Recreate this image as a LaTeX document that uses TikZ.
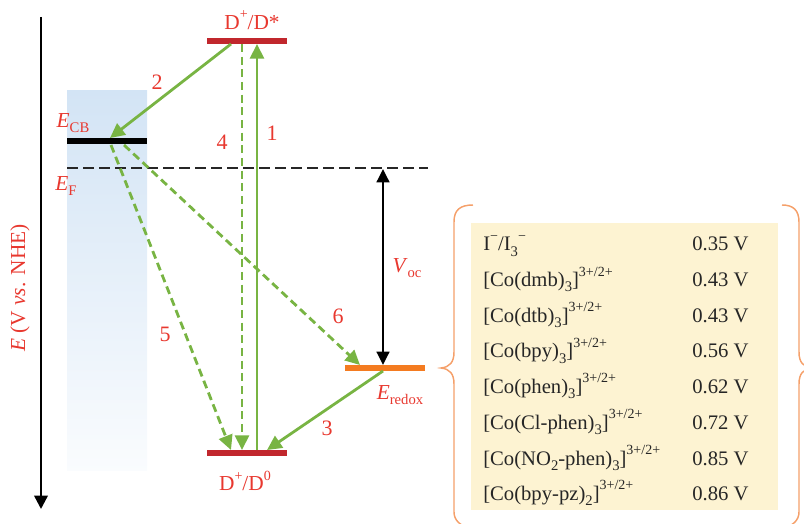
\documentclass[tikz,border=0pt]{standalone}
\usepackage{fontspec}
\setmainfont{Liberation Serif}
\usetikzlibrary{arrows.meta}
\definecolor{lblred}{HTML}{E8382F}
\definecolor{barred}{HTML}{C1272D}
\definecolor{grn}{HTML}{78B443}
\definecolor{orng}{HTML}{F47B20}
\definecolor{bracec}{HTML}{F5A06A}
\definecolor{tabbg}{HTML}{FDF3D2}
\definecolor{bluetop}{HTML}{D3E4F5}
\newcommand\lo[1]{\raisebox{-0.25em}{\fontsize{11}{11}\selectfont #1}}
\newcommand\hi[1]{\raisebox{0.5em}{\fontsize{10.5}{11}\selectfont #1}}
\begin{document}
\begin{tikzpicture}[x=0.75pt,y=-0.75pt,
  lvl/.style={rectangle,inner sep=0pt,minimum width=60pt,minimum height=4.6pt,draw=none},
  lbl/.style={text=lblred,inner sep=0pt,font=\fontsize{16}{18}\selectfont},
  num/.style={text=lblred,inner sep=0pt,font=\fontsize{16.5}{18}\selectfont},
  tab/.style={inner sep=0pt,anchor=base west,text=black!85,font=\fontsize{15.5}{18}\selectfont},
  garrow/.style={draw=grn,line width=2.1pt,-{Triangle[length=11pt,width=10.5pt]}},
  gdash/.style={garrow,dash pattern=on 6pt off 3.5pt},
  brc/.style={draw=bracec,line width=1.1pt}]
\useasboundingbox (0,0) rectangle (804,524);
% gradient band
\shade[top color=bluetop,bottom color=bluetop!12!white] (67,91) rectangle (147,470);
% energy axis
\coordinate (axtop) at (41,17);
\coordinate (axbot) at (41,509);
\draw[line width=1.8pt,-{Triangle[length=10pt,width=10pt]}] (axtop) -- (axbot);
\node[lbl,rotate=90] (axlbl) at (20,288) {\textit{E} (V \textit{vs}. NHE)};
% Fermi level
\coordinate (efl) at (67,168);
\coordinate (efr) at (428,168);
\draw[line width=1.3pt,dash pattern=on 8pt off 4pt,black!85] (efl) -- (efr);
% levels
\node[lvl,fill=black] (cb) at (107,141) {};
\node[lvl,fill=barred] (dstar) at (247,41) {};
\node[lvl,fill=barred] (dzero) at (247,453) {};
\node[lvl,fill=orng] (redox) at (385,368) {};
% level labels
\node[lbl] (cblbl) at (73,123) {\textit{E}\lo{CB}};
\node[lbl] (eflbl) at (66,186) {\textit{E}\lo{F}};
\node[lbl] (dslbl) at (252,20) {D\hi{+}/D*};
\node[lbl] (d0lbl) at (245,481) {D\hi{+}/D\hi{0}};
\node[lbl] (rdlbl) at (400,395) {\textit{E}\lo{redox}};
\node[lbl] (voclbl) at (407,268) {\textit{V}\lo{oc}};
% arrow end points
\coordinate (a1s) at (257,450);
\coordinate (a1e) at (257,44);
\coordinate (a4s) at (242,44);
\coordinate (a4e) at (242,450);
\coordinate (a2s) at (231,44);
\coordinate (a2e) at (110,138);
\coordinate (a5s) at (111,145);
\coordinate (a5e) at (231,450);
\coordinate (a6s) at (124,145);
\coordinate (a6e) at (360,365);
\coordinate (a3s) at (383,371);
\coordinate (a3e) at (267,450);
\coordinate (vt) at (383,169);
\coordinate (vb) at (383,365);
% arrows
\draw[garrow] (a1s) -- (a1e);
\draw[gdash] (a4s) -- (a4e);
\draw[garrow] (a2s) -- (a2e);
\draw[gdash] (a5s) -- (a5e);
\draw[gdash] (a6s) -- (a6e);
\draw[garrow] (a3s) -- (a3e);
\draw[line width=1.8pt,{Triangle[length=10pt,width=9.5pt]}-{Triangle[length=10pt,width=9.5pt]}] (vt) -- (vb);
% step numbers
\node[num] (n1) at (272,133) {1};
\node[num] (n2) at (157,82) {2};
\node[num] (n3) at (327,428) {3};
\node[num] (n4) at (222,142) {4};
\node[num] (n5) at (165,334) {5};
\node[num] (n6) at (338,316) {6};
% braces
\draw[brc] (473,205) .. controls (460,205) and (454,210) .. (454,222) -- (454,352)
  .. controls (454,362) and (450,367) .. (441,368)
  .. controls (450,369) and (454,374) .. (454,384) -- (454,512)
  .. controls (454,520) and (460,526) .. (470,528);
\draw[brc] (782,205) .. controls (793,205) and (799,210) .. (799,222) -- (799,352)
  .. controls (799,362) and (803,367) .. (812,368)
  .. controls (803,369) and (799,374) .. (799,384) -- (799,512)
  .. controls (799,520) and (793,526) .. (783,528);
% table
\fill[tabbg] (471,223) rectangle (778,510);
\node[tab] (r1l) at (483,251) {I\hi{−}/I\lo{3}\hi{−}};
\node[tab] (r2l) at (483,286.5) {[Co(dmb)\lo{3}]\hi{3+/2+}};
\node[tab] (r3l) at (483,322) {[Co(dtb)\lo{3}]\hi{3+/2+}};
\node[tab] (r4l) at (483,358) {[Co(bpy)\lo{3}]\hi{3+/2+}};
\node[tab] (r5l) at (483,393) {[Co(phen)\lo{3}]\hi{3+/2+}};
\node[tab] (r6l) at (483,429) {[Co(Cl-phen)\lo{3}]\hi{3+/2+}};
\node[tab] (r7l) at (483,465) {[Co(NO\lo{2}-phen)\lo{3}]\hi{3+/2+}};
\node[tab] (r8l) at (483,500) {[Co(bpy-pz)\lo{2}]\hi{3+/2+}};
\node[tab] (r1r) at (692,251) {0.35 V};
\node[tab] (r2r) at (692,286.5) {0.43 V};
\node[tab] (r3r) at (692,322) {0.43 V};
\node[tab] (r4r) at (692,358) {0.56 V};
\node[tab] (r5r) at (692,393) {0.62 V};
\node[tab] (r6r) at (692,429) {0.72 V};
\node[tab] (r7r) at (692,465) {0.85 V};
\node[tab] (r8r) at (692,500) {0.86 V};
\end{tikzpicture}
\end{document}
